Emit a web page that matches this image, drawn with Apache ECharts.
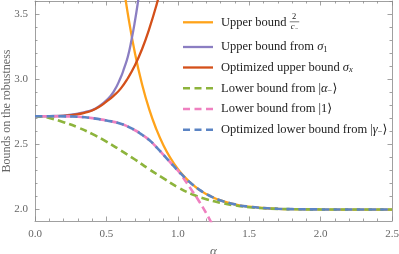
<!DOCTYPE html>
<html>
<head>
<meta charset="utf-8">
<script src="https://cdn.jsdelivr.net/npm/echarts@6/dist/echarts.min.js"></script>
<style>
html,body{margin:0;padding:0;background:#fff;}
#c{width:399px;height:254px;}
</style>
</head>
<body>
<div id="c"></div>
<script>
// ---- data ----
const orangeAlpha = [0.60,0.62,0.65,0.70,0.75,0.80,0.85,0.90,0.95,1.00,1.05,1.10,1.15,1.20,1.25,1.30,1.40,1.50,1.60,1.70,1.80,1.90,2.00,2.25,2.50];
const orangeVals  = [3.897,3.729,3.506,3.202,2.962,2.770,2.617,2.493,2.394,2.313,2.248,2.195,2.153,2.119,2.092,2.070,2.040,2.022,2.012,2.006,2.003,2.0015,2.0007,2.0,2.0];

const purpleAlpha = [0,0.1,0.2,0.3,0.35,0.4,0.45,0.5,0.55,0.6,0.625,0.65,0.675,0.7,0.72,0.74];
const purpleVals  = [2.718,2.719,2.723,2.737,2.75,2.765,2.795,2.84,2.905,3.015,3.09,3.175,3.30,3.45,3.59,3.75];

const redAlpha = [0,0.1,0.2,0.3,0.35,0.4,0.45,0.5,0.55,0.6,0.65,0.7,0.75,0.8,0.85,0.88];
const redVals  = [2.718,2.718,2.721,2.733,2.745,2.762,2.79,2.83,2.875,2.93,3.01,3.11,3.235,3.39,3.57,3.70];

const greenAlpha = [0,0.05,0.1,0.2,0.3,0.4,0.5,0.6,0.7,0.8,0.9,1.0,1.1,1.2,1.3,1.4,1.5,1.6,1.7,1.8,2.0,2.25,2.5];
const greenVals  = [2.718,2.715,2.705,2.672,2.632,2.582,2.522,2.455,2.385,2.31,2.24,2.172,2.118,2.08,2.052,2.032,2.018,2.01,2.005,2.003,2.001,2.0,2.0];

const pinkAlpha = [0,0.1,0.2,0.3,0.4,0.5,0.6,0.7,0.75,0.8,0.85,0.9,0.95,1.0,1.05,1.1,1.15,1.2,1.25];
const pinkVals  = [2.718,2.718,2.717,2.714,2.703,2.685,2.66,2.61,2.575,2.535,2.48,2.42,2.36,2.30,2.225,2.145,2.062,1.97,1.865];

const blueAlpha = [0,0.1,0.2,0.3,0.4,0.5,0.6,0.7,0.75,0.8,0.85,0.9,0.95,1.0,1.05,1.1,1.15,1.2,1.25,1.3,1.4,1.5,1.6,1.7,1.8,2.0,2.25,2.5];
const blueVals  = [2.718,2.718,2.717,2.714,2.703,2.685,2.66,2.61,2.575,2.535,2.48,2.42,2.36,2.30,2.245,2.195,2.153,2.119,2.092,2.070,2.040,2.022,2.012,2.006,2.003,2.001,2.0,2.0];

const xMajorTicks = [0,0.5,1.0,1.5,2.0,2.5];
const yMajorTicks = [2.0,2.5,3.0,3.5];
const seriesNames = ['Upper bound 2/c-','Upper bound from sigma1','Optimized upper bound sigmax',
                     'Lower bound from |alpha->','Lower bound from |1>','Optimized lower bound from |gamma->'];

// ---- layout / style ----
const FONT = "'Liberation Serif','DejaVu Serif',serif";
const xMin = 0, xMax = 2.5, yMin = 1.912, yMax = 3.604;
const frameColor = '#a0a0a0';
const tickColor = '#8a8a8a';
const labelColor = '#666';
const textColor = '#222';
const LFS = 12.5;

function zip(a, b){ return a.map((v,i)=>[v,b[i]]); }
function minorOf(min, max, step, majors){
  const out = [];
  for (let v = min; v <= max + 1e-9; v += step) {
    const r = Math.round(v*10)/10;
    if (!majors.some(m => Math.abs(m-r) < 1e-9)) out.push(r);
  }
  return out;
}
const xMinorTicks = minorOf(0, 2.5, 0.1, xMajorTicks);
const yMinorTicks = minorOf(2.0, 3.6, 0.1, yMajorTicks);

const grid = {left:35, right:7, top:1, bottom:33, containLabel:false, outerBoundsMode:'none'};

function xAx(gridIndex, position, ticks, len, showLine, showLabel, extra){
  return Object.assign({
    type:'value', gridIndex, position, min:xMin, max:xMax,
    axisLine:{show:showLine, onZero:false, lineStyle:{color:frameColor, width:1}},
    axisTick:{show:true, inside:true, length:len, customValues:ticks, lineStyle:{color:tickColor, width:0.8}},
    axisLabel:{show:showLabel, customValues:ticks, margin:8, color:labelColor, fontFamily:FONT, fontSize:11,
               formatter:v=>v.toFixed(1)},
    splitLine:{show:false}
  }, extra||{});
}
function yAx(gridIndex, position, ticks, len, showLine, showLabel, extra){
  return Object.assign({
    type:'value', gridIndex, position, min:yMin, max:yMax,
    axisLine:{show:showLine, onZero:false, lineStyle:{color:frameColor, width:1}},
    axisTick:{show:true, inside:true, length:len, customValues:ticks, lineStyle:{color:tickColor, width:0.8}},
    axisLabel:{show:showLabel, customValues:ticks, margin:7, color:labelColor, fontFamily:FONT, fontSize:11,
               formatter:v=>v.toFixed(1)},
    splitLine:{show:false}
  }, extra||{});
}

const colors = ['#FFA31A','#8B7EC2','#D4501A','#8DB43C','#EF80C0','#5B84C4'];
const dashed = [false,false,false,true,true,true];
const DASH = [7.5, 4.2];

function lineSeries(i, data, extraLine){
  return {
    name:seriesNames[i], type:'line', data, xAxisIndex:0, yAxisIndex:0,
    showSymbol:false, symbol:'none', smooth:0.5, clip:true,
    lineStyle:Object.assign({color:colors[i], width: dashed[i] ? 2.6 : 2.3,
               type: dashed[i] ? DASH : 'solid', cap:'butt'}, extraLine||{}),
    itemStyle:{color:colors[i]}, emphasis:{disabled:true}
  };
}

// ---- legend drawn as graphic elements ----
const rich = {
  t:{fontFamily:FONT, fontSize:LFS, fill:textColor, lineHeight:14},
  i:{fontFamily:FONT, fontSize:LFS, fontStyle:'italic', fill:textColor, lineHeight:14},
  s:{fontFamily:FONT, fontSize:8.5, fill:textColor, lineHeight:8, verticalAlign:'bottom'},
  si:{fontFamily:FONT, fontSize:8.5, fontStyle:'italic', fill:textColor, lineHeight:8, verticalAlign:'bottom'}
};
const legendTexts = [
  '{t|Upper bound }',
  '{t|Upper bound from }{i|σ}{s|1}',
  '{t|Optimized upper bound }{i|σ}{si|x}',
  '{t|Lower bound from |}{i|α}{s|−}{t|⟩}',
  '{t|Lower bound from |1⟩}',
  '{t|Optimized lower bound from |}{i|γ}{s|−}{t|⟩}'
];
const legendRowsY = [22.3, 47, 67.5, 88.3, 109, 129.7];
const legX1 = 183, legX2 = 213, legTextX = 221;

const legendGraphics = [];
legendTexts.forEach((txt, i) => {
  legendGraphics.push({
    type:'line', silent:true,
    shape:{x1:legX1, y1:legendRowsY[i], x2:legX2, y2:legendRowsY[i]},
    style:{stroke:colors[i], lineWidth: dashed[i] ? 2.6 : 2.3, lineDash: dashed[i] ? [7,4.5] : null, lineCap:'butt'}
  });
  legendGraphics.push({
    type:'text', silent:true, x:legTextX, y:legendRowsY[i],
    style:{text:txt, rich, verticalAlign:'middle', align:'left', fill:textColor}
  });
});
const cv = document.createElement('canvas').getContext('2d');
cv.font = LFS + "px 'Liberation Serif'";
const fracX = legTextX + cv.measureText('Upper bound ').width;
legendGraphics.push(
  {type:'text', silent:true, x:fracX+2.3, y:12.3,
   style:{text:'2', fontFamily:FONT, fontSize:8.5, fill:textColor}},
  {type:'line', silent:true, shape:{x1:fracX, y1:21.8, x2:fracX+9.5, y2:21.8},
   style:{stroke:textColor, lineWidth:0.6}},
  {type:'text', silent:true, x:fracX+1, y:22.3,
   style:{text:'c', fontFamily:FONT, fontSize:8.5, fontStyle:'italic', fill:textColor}},
  {type:'text', silent:true, x:fracX+5.2, y:25.5,
   style:{text:'−', fontFamily:FONT, fontSize:6, fill:textColor}}
);

const chart = echarts.init(document.getElementById('c'), null, {renderer:'canvas'});
chart.setOption({
  animation:false,
  backgroundColor:'#fff',
  grid:[Object.assign({}, grid), Object.assign({}, grid)],
  xAxis:[
    xAx(0,'bottom',xMajorTicks,4.5,true,true,{
      name:'α', nameLocation:'middle', nameGap:20,
      nameTextStyle:{fontFamily:FONT, fontSize:13, fontStyle:'italic', color:labelColor}
    }),
    xAx(0,'top',xMajorTicks,4.5,true,false),
    xAx(1,'bottom',xMinorTicks,2.5,false,false),
    xAx(1,'top',xMinorTicks,2.5,false,false)
  ],
  yAxis:[
    yAx(0,'left',yMajorTicks,4.5,true,true,{
      name:'Bounds on the robustness', nameLocation:'middle', nameGap:22, nameMoveOverlap:false,
      nameTextStyle:{fontFamily:FONT, fontSize:12, color:labelColor}
    }),
    yAx(0,'right',yMajorTicks,4.5,true,false),
    yAx(1,'left',yMinorTicks,2.5,false,false),
    yAx(1,'right',yMinorTicks,2.5,false,false)
  ],
  series:[
    lineSeries(0, zip(orangeAlpha, orangeVals)),
    lineSeries(1, zip(purpleAlpha, purpleVals)),
    lineSeries(2, zip(redAlpha, redVals)),
    lineSeries(3, zip(greenAlpha, greenVals)),
    lineSeries(4, zip(pinkAlpha, pinkVals), {dashOffset:5.8}),
    lineSeries(5, zip(blueAlpha, blueVals))
  ],
  graphic:legendGraphics
});
</script>
</body>
</html>
